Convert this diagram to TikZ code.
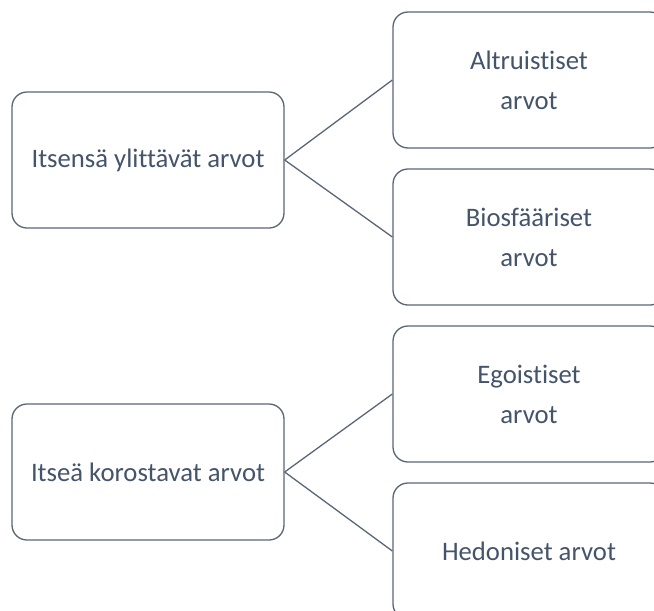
\documentclass[tikz,border=0pt]{standalone}
\usepackage{fontspec}
\setmainfont[RawFeature={-liga;-clig;-dlig}]{Carlito}
\definecolor{txt}{HTML}{44546A}
\definecolor{edge}{HTML}{5A6676}
\begin{document}
\begin{tikzpicture}[x=1pt,y=-1pt,
  box/.style={draw=edge,line width=1.3pt,rounded corners=15pt,fill=white,
    minimum width=272pt,minimum height=136pt,inner sep=0pt,
    text=txt,align=center,font=\fontsize{26.7}{40}\selectfont},
  link/.style={draw=edge,line width=1.3pt}]
\useasboundingbox (0,0) rectangle (654,611);
\clip (0,0) rectangle (654,611);
\node[box] (l1) at (148,160) {Itsensä ylittävät arvot};
\node[box] (l2) at (148,472) {Itseä korostavat arvot};
\node[box] (r1) at (529,80) {Altruistiset\\arvot};
\node[box] (r2) at (529,237) {Biosfääriset\\arvot};
\node[box] (r3) at (529,394) {Egoistiset\\arvot};
\node[box] (r4) at (529,551) {Hedoniset arvot};
\draw[link] (l1.east) -- (r1.west);
\draw[link] (l1.east) -- (r2.west);
\draw[link] (l2.east) -- (r3.west);
\draw[link] (l2.east) -- (r4.west);
\end{tikzpicture}
\end{document}
